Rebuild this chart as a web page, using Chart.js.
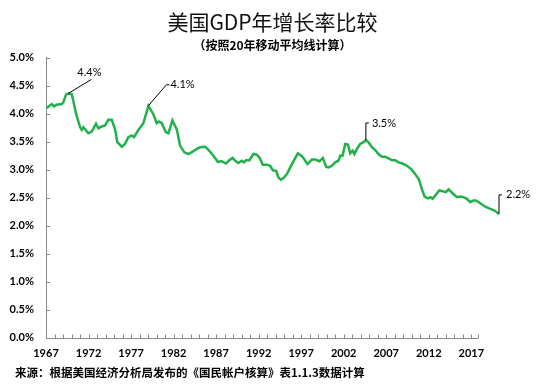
<!DOCTYPE html>
<html>
<head>
<meta charset="utf-8">
<script src="https://cdn.jsdelivr.net/npm/chart.js@4.4.0/dist/chart.umd.min.js"></script>
<style>
html, body { margin: 0; padding: 0; background: #fff; }
</style>
</head>
<body>
<canvas id="gdp-chart" width="550" height="386"></canvas>
<script>
// 20-year moving average of US GDP growth
var years = [
    1967.08, 1967.67, 1967.94, 1968.26, 1968.85, 1969.04, 1969.35, 1969.62, 1970.02, 1970.21,
    1970.53, 1971.00, 1971.20, 1971.39, 1971.98, 1972.38, 1972.88, 1973.15, 1973.55, 1973.94,
    1974.33, 1974.73, 1975.12, 1975.39, 1975.91, 1976.29, 1976.68, 1977.08, 1977.35, 1977.86,
    1978.45, 1979.04, 1979.62, 1980.02, 1980.29, 1980.61, 1981.08, 1981.39, 1981.86, 1982.38,
    1982.76, 1983.27, 1983.74, 1984.33, 1984.73, 1985.12, 1985.71, 1986.18, 1986.68, 1987.20,
    1987.67, 1988.14, 1988.65, 1988.94, 1989.24, 1989.62, 1990.02, 1990.29, 1990.53, 1990.92,
    1991.39, 1991.79, 1992.09, 1992.49, 1992.96, 1993.35, 1993.67, 1994.06, 1994.33, 1994.61,
    1994.92, 1995.32, 1995.91, 1996.61, 1997.08, 1997.35, 1997.74, 1998.26, 1998.65, 1999.15,
    1999.55, 1999.94, 2000.21, 2000.61, 2001.00, 2001.39, 2001.59, 2001.86, 2002.18, 2002.49,
    2002.76, 2003.04, 2003.27, 2003.55, 2003.94, 2004.33, 2004.61, 2004.92, 2005.32, 2005.71,
    2006.09, 2006.49, 2006.88, 2007.27, 2007.67, 2008.06, 2008.45, 2008.92, 2009.44, 2009.94,
    2010.35, 2010.84, 2011.20, 2011.51, 2011.91, 2012.18, 2012.45, 2012.76, 2013.24, 2013.74,
    2014.02, 2014.33, 2014.80, 2015.32, 2015.71, 2016.09, 2016.49, 2016.88, 2017.27, 2017.55,
    2018.06, 2018.65, 2019.24, 2019.74, 2020.26
];
var growthRates = [
    4.10, 4.17, 4.13, 4.16, 4.17, 4.20, 4.34, 4.36, 4.35, 4.23,
    4.00, 3.76, 3.71, 3.76, 3.65, 3.68, 3.82, 3.74, 3.77, 3.79,
    3.89, 3.89, 3.72, 3.49, 3.41, 3.46, 3.58, 3.61, 3.58, 3.71,
    3.83, 4.14, 3.99, 3.83, 3.86, 3.83, 3.67, 3.65, 3.88, 3.72,
    3.43, 3.31, 3.28, 3.33, 3.37, 3.40, 3.41, 3.34, 3.25, 3.14,
    3.15, 3.11, 3.18, 3.21, 3.16, 3.12, 3.16, 3.13, 3.17, 3.17,
    3.28, 3.27, 3.22, 3.09, 3.09, 3.07, 2.99, 2.98, 2.86, 2.82,
    2.85, 2.92, 3.10, 3.29, 3.24, 3.19, 3.10, 3.18, 3.18, 3.15,
    3.21, 3.05, 3.04, 3.07, 3.13, 3.16, 3.25, 3.25, 3.46, 3.45,
    3.29, 3.34, 3.28, 3.37, 3.46, 3.49, 3.53, 3.49, 3.40, 3.35,
    3.28, 3.23, 3.23, 3.20, 3.17, 3.17, 3.13, 3.11, 3.07, 3.01,
    2.93, 2.83, 2.65, 2.52, 2.49, 2.51, 2.48, 2.54, 2.63, 2.61,
    2.60, 2.65, 2.58, 2.51, 2.52, 2.51, 2.48, 2.42, 2.45, 2.45,
    2.40, 2.34, 2.30, 2.27, 2.21
];

var calloutYears = [1969.62, 1979.04, 2004.61, 2020.26];
var calloutLabels = ['4.4%', '4.1%', '3.5%', '2.2%'];

var firstYear = 1967;
var lastLabelYear = 2017;
var axisEndYear = 2017.8;

var chartTitle = '美国GDP年增长率比较';
var chartSubtitle = '（按照20年移动平均线计算）';
var sourceNote = '来源：根据美国经济分析局发布的《国民帐户核算》表1.1.3数据计算';

var numFont = 'Lato, "Liberation Sans", sans-serif';
var cjkFont = '"Noto Sans CJK SC", sans-serif';

// leader line shapes for the callouts, relative to the marked point
var calloutShapes = [
    { path: [[0, 0], [23, -14]], text: [9, -21] },
    { path: [[0, 0], [18, -21], [21, -21]], text: [22, -21] },
    { path: [[0, 0], [0, -17], [3, -17]], text: [6, -17] },
    { path: [[0, 0], [0, -19], [3, -19]], text: [7, -19] }
];

var decorPlugin = {
    id: 'decor',
    afterDraw: function (chart) {
        var ctx = chart.ctx;
        var xs = chart.scales.x;
        var ys = chart.scales.y;
        var area = chart.chartArea;
        ctx.save();

        // x axis line with inside year ticks, y inside ticks
        ctx.strokeStyle = '#8a8a8a';
        ctx.lineWidth = 1;
        ctx.beginPath();
        var yb = Math.round(area.bottom) + 0.5;
        var xEnd = xs.getPixelForValue(axisEndYear);
        ctx.moveTo(area.left, yb);
        ctx.lineTo(xEnd, yb);
        for (var yr = firstYear + 1; yr <= axisEndYear; yr++) {
            var px = Math.round(xs.getPixelForValue(yr)) + 0.5;
            ctx.moveTo(px, yb);
            ctx.lineTo(px, yb - 4);
        }
        ctx.moveTo(Math.round(xEnd) + 0.5, yb);
        ctx.lineTo(Math.round(xEnd) + 0.5, yb - 4);
        ys.ticks.forEach(function (t) {
            var py = Math.round(ys.getPixelForValue(t.value)) + 0.5;
            ctx.moveTo(area.left, py);
            ctx.lineTo(area.left + 4, py);
        });
        ctx.stroke();

        // callouts
        ctx.strokeStyle = '#000';
        ctx.fillStyle = '#000';
        ctx.font = '11px ' + numFont;
        ctx.textAlign = 'left';
        ctx.textBaseline = 'middle';
        calloutYears.forEach(function (cy, i) {
            var idx = years.indexOf(cy);
            var ax = xs.getPixelForValue(years[idx]);
            var ay = ys.getPixelForValue(growthRates[idx]);
            var shape = calloutShapes[i];
            ctx.beginPath();
            shape.path.forEach(function (p, j) {
                if (j === 0) ctx.moveTo(ax + p[0], ay + p[1]);
                else ctx.lineTo(ax + p[0], ay + p[1]);
            });
            ctx.stroke();
            ctx.fillText(calloutLabels[i], ax + shape.text[0], ay + shape.text[1]);
        });

        // source note
        ctx.font = 'bold 11.5px ' + cjkFont;
        ctx.fillText(sourceNote, 15, 373);
        ctx.restore();
    }
};

var ctx = document.getElementById('gdp-chart').getContext('2d');

var gdpChart = new Chart(ctx, {
    type: 'line',
    data: {
        datasets: [{
            data: years.map(function (yr, i) { return { x: yr, y: growthRates[i] }; }),
            borderColor: '#21b14b',
            borderWidth: 2.5,
            pointRadius: 0,
            tension: 0,
            fill: false
        }]
    },
    options: {
        responsive: false,
        animation: false,
        layout: {
            padding: { left: 0, right: 51, top: 0, bottom: 17 }
        },
        plugins: {
            legend: { display: false },
            tooltip: { enabled: false },
            title: {
                display: true,
                fullSize: false,
                text: chartTitle,
                color: '#111',
                font: { family: cjkFont, size: 21, weight: 'normal' },
                padding: { top: 9, bottom: 2 }
            },
            subtitle: {
                display: true,
                fullSize: false,
                text: chartSubtitle,
                color: '#000',
                font: { family: cjkFont, size: 12, weight: 'bold' },
                padding: { top: 2, bottom: 5 }
            }
        },
        scales: {
            x: {
                type: 'linear',
                min: firstYear,
                max: years[years.length - 1],
                grid: { display: false, drawTicks: false },
                border: { display: false },
                ticks: {
                    stepSize: 1,
                    autoSkip: false,
                    maxRotation: 0,
                    includeBounds: false,
                    padding: 9,
                    color: '#000',
                    font: { family: numFont, size: 11, weight: 'bold' },
                    callback: function (v) {
                        if (Number.isInteger(v) && (v - firstYear) % 5 === 0 && v <= lastLabelYear) return String(v);
                        return '';
                    }
                }
            },
            y: {
                min: 0,
                max: 5,
                grid: { display: false, drawTicks: false },
                border: { display: true, color: '#8a8a8a', width: 1 },
                afterFit: function (scale) { scale.width = 46; },
                ticks: {
                    stepSize: 0.5,
                    padding: 12,
                    color: '#000',
                    font: { family: numFont, size: 11, weight: 'bold' },
                    callback: function (v) { return v.toFixed(1) + '%'; }
                }
            }
        }
    },
    plugins: [decorPlugin]
});
</script>
</body>
</html>
